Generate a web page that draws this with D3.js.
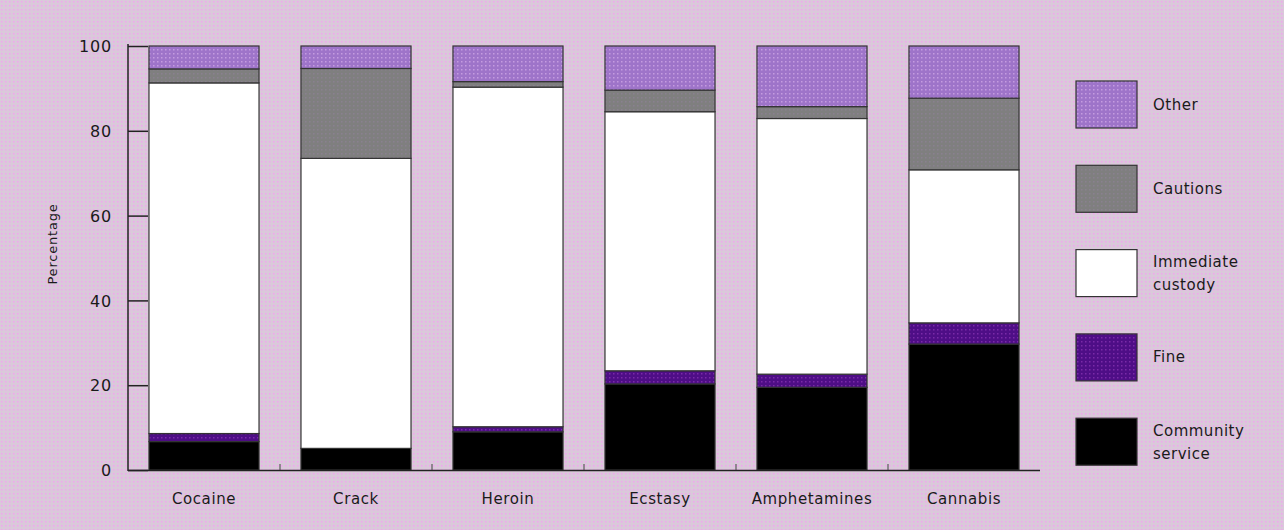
<!DOCTYPE html>
<html><head><meta charset="utf-8">
<script src="https://cdn.jsdelivr.net/npm/d3@7"></script>
<style>body{margin:0;background:#dcc8dd}svg{display:block}text{font-family:"DejaVu Sans",sans-serif;fill:#1a1a1a}</style>
</head><body><svg id="c" width="1284" height="530"></svg>
<script>
const categories = ["Cocaine","Crack","Heroin","Ecstasy","Amphetamines","Cannabis"];
const seriesNames = ["Community service","Fine","Immediate custody","Cautions","Other"];
const communityService = [6.7, 5.1, 9.0, 20.3, 19.5, 29.7];
const fine             = [1.9, 0.0, 1.2, 3.1, 3.1, 5.0];
const immediateCustody = [82.7, 68.4, 80.1, 61.1, 60.3, 36.1];
const cautions         = [3.3, 21.2, 1.3, 5.1, 2.8, 16.9];
const other            = [5.4, 5.3, 8.4, 10.4, 14.3, 12.3];
const yTicks = [0, 20, 40, 60, 80, 100];
const legendLabels = [["Other"],["Cautions"],["Immediate","custody"],["Fine"],["Community","service"]];

const seriesValues = [communityService, fine, immediateCustody, cautions, other];
const fills = ["#000000","url(#pFine)","#ffffff","url(#pCaut)","url(#pOther)"];

const svg = d3.select("#c");
const defs = svg.append("defs");
function pat(id, base, dot){
  const p = defs.append("pattern").attr("id",id).attr("width",4).attr("height",4).attr("patternUnits","userSpaceOnUse");
  p.append("rect").attr("width",4).attr("height",4).attr("fill",base);
  p.append("rect").attr("x",1).attr("y",1).attr("width",1.5).attr("height",1.5).attr("fill",dot);
}
pat("pBg","#dac8da","#f0a6ee");
pat("pOther","#9e74c9","#c49be0");
pat("pCaut","#7f7f7f","#8a8090");
pat("pFine","#4e0e86","#7a2aa8");
svg.append("rect").attr("width",1284).attr("height",530).attr("fill","url(#pBg)");

const x = d3.scaleBand().domain(categories).range([128,1040]).paddingInner(0.276).paddingOuter(0.138);
const y = d3.scaleLinear().domain([0,100]).range([470,46]);

const table = categories.map((c,i)=>{const o={cat:c}; seriesNames.forEach((s,j)=>o[s]=seriesValues[j][i]); return o;});
const stack = d3.stack().keys(seriesNames)(table);

const g = svg.append("g");
stack.forEach((layer,j)=>{
  g.selectAll(null).data(layer).enter().append("rect")
    .attr("x",d=>x(d.data.cat)).attr("width",x.bandwidth())
    .attr("y",d=>y(d[1])).attr("height",d=>Math.max(0,y(d[0])-y(d[1])))
    .attr("fill",fills[j]).attr("stroke","#333").attr("stroke-width",1.2);
});

// y axis
const ya = svg.append("g").attr("transform","translate(128,0)")
  .call(d3.axisLeft(y).tickValues(yTicks).tickSize(-20).tickPadding(16));
ya.select(".domain").remove();
ya.selectAll(".tick line").attr("stroke","#222").attr("stroke-width",1.5);
ya.selectAll("text").style("font-size","16px").style("letter-spacing","0.8px").attr("fill","#1a1a1a").attr("dy","0.35em");
svg.append("line").attr("x1",128).attr("x2",128).attr("y1",44).attr("y2",471).attr("stroke","#222").attr("stroke-width",1.5);

// x axis baseline and boundary ticks
svg.append("line").attr("x1",128).attr("x2",1040).attr("y1",470.5).attr("y2",470.5).attr("stroke","#222").attr("stroke-width",1.5);
const step = x.step();
categories.slice(1).forEach((c)=>{
  const bx = x(c) - (step - x.bandwidth())/2;
  svg.append("line").attr("x1",bx).attr("x2",bx).attr("y1",470).attr("y2",464).attr("stroke","#444").attr("stroke-width",1);
});
svg.selectAll(".xl").data(categories).enter().append("text")
  .attr("x",d=>x(d)+x.bandwidth()/2).attr("y",504).attr("text-anchor","middle")
  .style("font-size","15px").style("letter-spacing","0.6px").text(d=>d);

svg.append("text").attr("transform","translate(57,244) rotate(-90)").attr("text-anchor","middle")
  .style("font-size","13px").style("letter-spacing","0.8px").text("Percentage");

// legend
const legendFills = [fills[4],fills[3],fills[2],fills[1],fills[0]];
legendLabels.forEach((lab,i)=>{
  const top = 81 + i*84.3;
  svg.append("rect").attr("x",1076).attr("y",top).attr("width",61).attr("height",47)
    .attr("fill",legendFills[i]).attr("stroke","#333").attr("stroke-width",1.2);
  const t = svg.append("text").attr("x",1153).style("font-size","15px").style("letter-spacing","0.5px");
  const cy = top + 23.5;
  if(lab.length===1){ t.append("tspan").attr("x",1153).attr("y",cy+5).text(lab[0]); }
  else { t.append("tspan").attr("x",1153).attr("y",cy-6).text(lab[0]);
         t.append("tspan").attr("x",1153).attr("y",cy+17).text(lab[1]); }
});
</script></body></html>
